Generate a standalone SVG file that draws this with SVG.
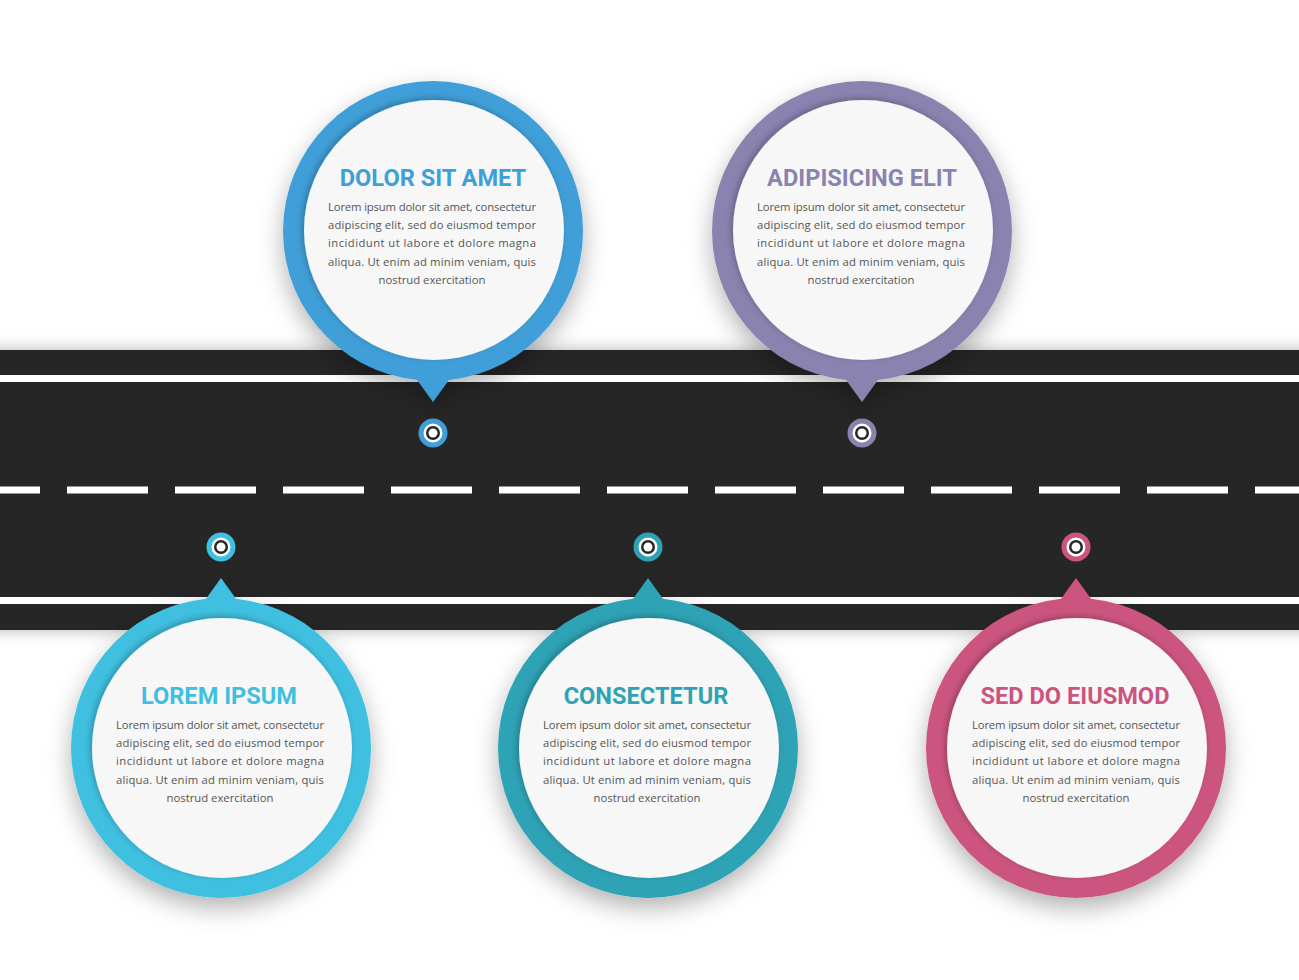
<svg xmlns="http://www.w3.org/2000/svg" width="1299" height="980" viewBox="0 0 1299 980">
<defs>
<filter id="sh" x="-30%" y="-30%" width="160%" height="160%"><feDropShadow dx="0" dy="10" stdDeviation="12" flood-color="#000" flood-opacity="0.3"/></filter>
<filter id="rs" x="-5%" y="-20%" width="110%" height="140%"><feDropShadow dx="0" dy="0" stdDeviation="8" flood-color="#000" flood-opacity="0.3"/></filter>
<filter id="is" x="-20%" y="-20%" width="140%" height="140%"><feDropShadow dx="-2" dy="-2" stdDeviation="3" flood-color="#000" flood-opacity="0.25"/></filter>
<style>
.t{font-family:Roboto,"Liberation Sans",sans-serif;font-weight:bold;font-size:23.6px;text-anchor:middle}
.b{font-family:"Open Sans","Liberation Sans",sans-serif;font-size:11.3px;fill:#555}
.in{fill:#f7f7f7}
</style>
</defs>
<rect width="1299" height="980" fill="#fff"/>
<g id="road">
<rect x="-20" y="350" width="1340" height="280" fill="#262626" filter="url(#rs)"/>
<rect x="0" y="375" width="1299" height="7" fill="#fff"/>
<rect x="0" y="597" width="1299" height="7" fill="#fff"/>
<line x1="-41" y1="490" x2="1320" y2="490" stroke="#fff" stroke-width="7" stroke-dasharray="81 27"/>
</g>
<g id="connectors">
<g stroke-width="5" fill="#fff">
<circle cx="433" cy="433" r="12" stroke="#3f9fd8"/>
<circle cx="862" cy="433" r="12" stroke="#8a83b0"/>
<circle cx="221" cy="547" r="12" stroke="#3fc0e0"/>
<circle cx="648" cy="547" r="12" stroke="#2ea3b5"/>
<circle cx="1076" cy="547" r="12" stroke="#cc5580"/>
</g>
<g fill="#262626">
<circle cx="433" cy="433" r="7"/><circle cx="862" cy="433" r="7"/><circle cx="221" cy="547" r="7"/><circle cx="648" cy="547" r="7"/><circle cx="1076" cy="547" r="7"/>
</g>
<g fill="#fff"><circle cx="433" cy="433" r="4.5"/><circle cx="862" cy="433" r="4.5"/><circle cx="221" cy="547" r="4.5"/><circle cx="648" cy="547" r="4.5"/><circle cx="1076" cy="547" r="4.5"/></g>
</g>
<g id="n1">
<g filter="url(#sh)" fill="#3f9fd8"><circle cx="433" cy="231" r="150"/><path d="M410 370 L433 402 L456 370Z"/></g>
<circle class="in" cx="434" cy="230" r="130" filter="url(#is)"/>
<text class="t" x="433" y="186" fill="#3f9fd8">DOLOR SIT AMET</text>
<g class="b"><text x="328" y="211" textLength="208">Lorem ipsum dolor sit amet, consectetur</text><text x="328" y="229" textLength="208">adipiscing elit, sed do eiusmod tempor</text><text x="328" y="247" textLength="208">incididunt ut labore et dolore magna</text><text x="328" y="266" textLength="208">aliqua. Ut enim ad minim veniam, quis</text><text x="432" y="284" text-anchor="middle">nostrud exercitation</text></g>
</g>
<g id="n2">
<g filter="url(#sh)" fill="#8a83b0"><circle cx="862" cy="231" r="150"/><path d="M839 370 L862 402 L885 370Z"/></g>
<circle class="in" cx="863" cy="230" r="130" filter="url(#is)"/>
<text class="t" x="862" y="186" fill="#8a83b0">ADIPISICING ELIT</text>
<g class="b"><text x="757" y="211" textLength="208">Lorem ipsum dolor sit amet, consectetur</text><text x="757" y="229" textLength="208">adipiscing elit, sed do eiusmod tempor</text><text x="757" y="247" textLength="208">incididunt ut labore et dolore magna</text><text x="757" y="266" textLength="208">aliqua. Ut enim ad minim veniam, quis</text><text x="861" y="284" text-anchor="middle">nostrud exercitation</text></g>
</g>
<g id="n3">
<g filter="url(#sh)" fill="#3fc0e0"><circle cx="221" cy="748" r="150"/><path d="M198 610 L221 578 L244 610Z"/></g>
<circle class="in" cx="222" cy="748" r="130" filter="url(#is)"/>
<text class="t" x="219" y="704" fill="#3fc0e0">LOREM IPSUM</text>
<g class="b"><text x="116" y="729" textLength="208">Lorem ipsum dolor sit amet, consectetur</text><text x="116" y="747" textLength="208">adipiscing elit, sed do eiusmod tempor</text><text x="116" y="765" textLength="208">incididunt ut labore et dolore magna</text><text x="116" y="784" textLength="208">aliqua. Ut enim ad minim veniam, quis</text><text x="220" y="802" text-anchor="middle">nostrud exercitation</text></g>
</g>
<g id="n4">
<g filter="url(#sh)" fill="#2ea3b5"><circle cx="648" cy="748" r="150"/><path d="M625 610 L648 578 L671 610Z"/></g>
<circle class="in" cx="649" cy="748" r="130" filter="url(#is)"/>
<text class="t" x="646" y="704" fill="#2ea3b5">CONSECTETUR</text>
<g class="b"><text x="543" y="729" textLength="208">Lorem ipsum dolor sit amet, consectetur</text><text x="543" y="747" textLength="208">adipiscing elit, sed do eiusmod tempor</text><text x="543" y="765" textLength="208">incididunt ut labore et dolore magna</text><text x="543" y="784" textLength="208">aliqua. Ut enim ad minim veniam, quis</text><text x="647" y="802" text-anchor="middle">nostrud exercitation</text></g>
</g>
<g id="n5">
<g filter="url(#sh)" fill="#cc5580"><circle cx="1076" cy="748" r="150"/><path d="M1053 610 L1076 578 L1099 610Z"/></g>
<circle class="in" cx="1077" cy="748" r="130" filter="url(#is)"/>
<text class="t" x="1075" y="704" fill="#cc5580">SED DO EIUSMOD</text>
<g class="b"><text x="972" y="729" textLength="208">Lorem ipsum dolor sit amet, consectetur</text><text x="972" y="747" textLength="208">adipiscing elit, sed do eiusmod tempor</text><text x="972" y="765" textLength="208">incididunt ut labore et dolore magna</text><text x="972" y="784" textLength="208">aliqua. Ut enim ad minim veniam, quis</text><text x="1076" y="802" text-anchor="middle">nostrud exercitation</text></g>
</g>
</svg>
